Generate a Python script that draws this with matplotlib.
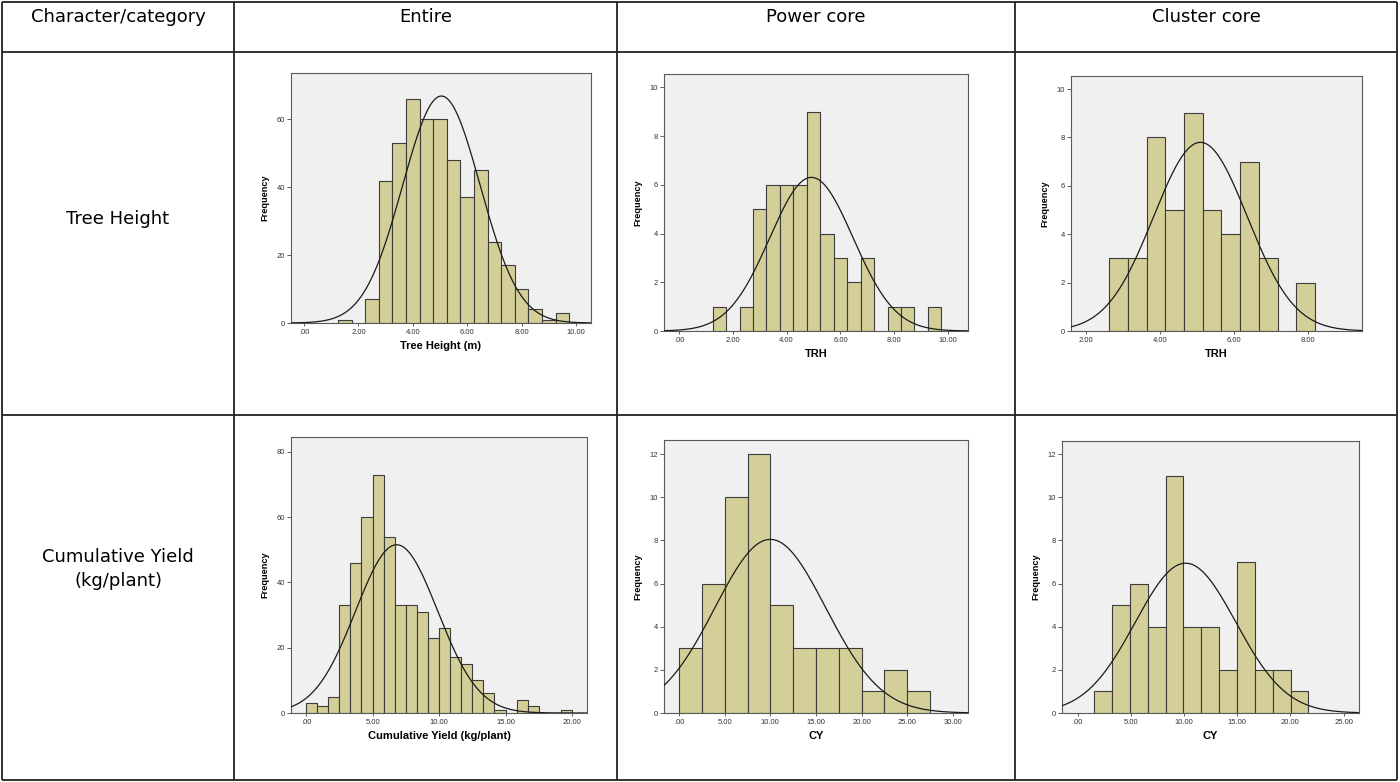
import numpy as np
import matplotlib
matplotlib.use("Agg")
import matplotlib.pyplot as plt

W, H = 1400, 782

# table text
col_headers = ["Character/category", "Entire", "Power core", "Cluster core"]
row_labels = [["Tree Height"], ["Cumulative Yield", "(kg/plant)"]]

# histogram counts (bin start, bin width, counts)
th_entire_start, th_entire_width = 1.25, 0.5
th_entire_counts = [1, 0, 7, 42, 53, 66, 60, 60, 48, 37, 45, 24, 17, 10, 4, 1, 3]
th_power_start, th_power_width = 1.25, 0.5
th_power_counts = [1, 0, 1, 5, 6, 6, 6, 9, 4, 3, 2, 3, 0, 1, 1, 0, 1]
th_cluster_start, th_cluster_width = 2.64, 0.505
th_cluster_counts = [3, 3, 8, 5, 9, 5, 4, 7, 3, 0, 2]
cy_entire_start, cy_entire_width = 0.0, 20.0 / 24
cy_entire_counts = [3, 2, 5, 33, 46, 60, 73, 54, 33, 33, 31, 23, 26, 17, 15,
                    10, 6, 1, 0, 4, 2, 0, 0, 1]
cy_power_start, cy_power_width = 0.0, 2.5
cy_power_counts = [3, 6, 10, 12, 5, 3, 3, 3, 1, 2, 1]
cy_cluster_start, cy_cluster_width = 1.56, 1.677
cy_cluster_counts = [1, 5, 6, 4, 11, 4, 4, 2, 7, 2, 2, 1]

# normal fit (mean, sd, n)
th_entire_fit = (5.05, 1.425, 478)
th_power_fit = (4.92, 1.55, 49)
th_cluster_fit = (5.10, 1.266, 49)
cy_entire_fit = (6.81, 3.085, 478)
cy_power_fit = (10.0, 6.07, 49)
cy_cluster_fit = (10.15, 4.72, 49)

# tick values
th_entire_xticks = [0, 2, 4, 6, 8, 10]
th_entire_yticks = [0, 20, 40, 60]
th_power_xticks = [0, 2, 4, 6, 8, 10]
th_power_yticks = [0, 2, 4, 6, 8, 10]
th_cluster_xticks = [2, 4, 6, 8]
th_cluster_yticks = [0, 2, 4, 6, 8, 10]
cy_entire_xticks = [0, 5, 10, 15, 20]
cy_entire_yticks = [0, 20, 40, 60, 80]
cy_power_xticks = [0, 5, 10, 15, 20, 25, 30]
cy_power_yticks = [0, 2, 4, 6, 8, 10, 12]
cy_cluster_xticks = [0, 5, 10, 15, 20, 25]
cy_cluster_yticks = [0, 2, 4, 6, 8, 10, 12]

panels = [
    dict(box=(291, 73, 591, 323), xlim=(-0.48, 10.55), ylim=(0, 73.7),
         start=th_entire_start, width=th_entire_width, counts=th_entire_counts,
         fit=th_entire_fit, xticks=th_entire_xticks, yticks=th_entire_yticks,
         xlabel="Tree Height (m)"),
    dict(box=(664, 74, 968, 331), xlim=(-0.56, 10.74), ylim=(0, 10.55),
         start=th_power_start, width=th_power_width, counts=th_power_counts,
         fit=th_power_fit, xticks=th_power_xticks, yticks=th_power_yticks,
         xlabel="TRH"),
    dict(box=(1071, 76, 1362, 331), xlim=(1.60, 9.47), ylim=(0, 10.54),
         start=th_cluster_start, width=th_cluster_width, counts=th_cluster_counts,
         fit=th_cluster_fit, xticks=th_cluster_xticks, yticks=th_cluster_yticks,
         xlabel="TRH"),
    dict(box=(291, 437, 587, 713), xlim=(-1.13, 21.12), ylim=(0, 84.5),
         start=cy_entire_start, width=cy_entire_width, counts=cy_entire_counts,
         fit=cy_entire_fit, xticks=cy_entire_xticks, yticks=cy_entire_yticks,
         xlabel="Cumulative Yield (kg/plant)"),
    dict(box=(664, 440, 968, 713), xlim=(-1.65, 31.66), ylim=(0, 12.66),
         start=cy_power_start, width=cy_power_width, counts=cy_power_counts,
         fit=cy_power_fit, xticks=cy_power_xticks, yticks=cy_power_yticks,
         xlabel="CY"),
    dict(box=(1062, 441, 1359, 713), xlim=(-1.46, 26.44), ylim=(0, 12.61),
         start=cy_cluster_start, width=cy_cluster_width, counts=cy_cluster_counts,
         fit=cy_cluster_fit, xticks=cy_cluster_xticks, yticks=cy_cluster_yticks,
         xlabel="CY"),
]

BAR = "#D4CF98"
EDGE = "#3C3C3C"
PANEL_FONT = ["Liberation Sans", "DejaVu Sans"]


def fmt_tick(v):
    s = f"{v:.2f}"
    return s[1:] if s.startswith("0") else s


def px_box(left, top, right, bottom):
    return [left / W, 1 - bottom / H, (right - left) / W, (bottom - top) / H]


fig = plt.figure(figsize=(W / 100, H / 100), dpi=100)

# table grid + text in pixel coordinates
bg = fig.add_axes([0, 0, 1, 1])
bg.set_xlim(0, W)
bg.set_ylim(H, 0)
bg.axis("off")
col_x = [2, 234, 617, 1015, 1397]
row_y = [2, 52, 415, 780]
for x in col_x:
    bg.plot([x, x], [row_y[0], row_y[-1]], color="#222222", lw=1.3, solid_capstyle="butt")
for y in row_y:
    bg.plot([col_x[0], col_x[-1]], [y, y], color="#222222", lw=1.3, solid_capstyle="butt")
for i, txt in enumerate(col_headers):
    cx = (col_x[i] + col_x[i + 1]) / 2
    bg.text(cx, 22, txt, ha="center", va="baseline", fontsize=13,
            family="DejaVu Sans", color="black")
row_base = [224, 562]
for i, lines in enumerate(row_labels):
    cx = (col_x[0] + col_x[1]) / 2
    for j, line in enumerate(lines):
        bg.text(cx, row_base[i] + 24 * j, line, ha="center", va="baseline",
                fontsize=13, family="DejaVu Sans", color="black")

for p in panels:
    left, top, right, bottom = p["box"]
    wpx, hpx = right - left, bottom - top
    ax = fig.add_axes(px_box(*p["box"]))
    ax.set_facecolor("#F0F0F0")

    counts = np.array(p["counts"], dtype=float)
    lefts = p["start"] + p["width"] * np.arange(len(counts))
    keep = counts > 0
    ax.bar(lefts[keep], counts[keep], width=p["width"], align="edge",
           color=BAR, edgecolor=EDGE, linewidth=0.8, zorder=2)

    m, sd, n = p["fit"]
    xs = np.linspace(p["xlim"][0], p["xlim"][1], 400)
    ys = n * p["width"] / (sd * np.sqrt(2 * np.pi)) * np.exp(-0.5 * ((xs - m) / sd) ** 2)
    ax.plot(xs, ys, color="#1a1a1a", lw=0.9, zorder=3)

    ax.set_xlim(*p["xlim"])
    ax.set_ylim(*p["ylim"])
    ax.set_xticks(p["xticks"])
    ax.set_xticklabels([fmt_tick(v) for v in p["xticks"]])
    ax.set_yticks(p["yticks"])
    ax.set_yticklabels([str(v) for v in p["yticks"]])
    ax.tick_params(axis="both", direction="out", width=0.6, color="#444444",
                   labelsize=5.5, labelcolor="#333333")
    ax.tick_params(axis="y", length=3, pad=1.2)
    ax.tick_params(axis="x", length=2.5, pad=1.5)
    for lab in ax.get_xticklabels() + ax.get_yticklabels():
        lab.set_family(PANEL_FONT)
    for sp in ax.spines.values():
        sp.set_color("#5a5a5a")
        sp.set_linewidth(0.8)

    ax.set_ylabel("Frequency", fontsize=6.6, fontweight="bold", family=PANEL_FONT)
    ax.yaxis.set_label_coords(-21.5 / wpx, 0.5)
    ax.set_xlabel(p["xlabel"], fontsize=8, fontweight="bold", family=PANEL_FONT)
    ax.xaxis.set_label_coords(0.5, -18.0 / hpx)

fig.savefig("out.png", dpi=100)
